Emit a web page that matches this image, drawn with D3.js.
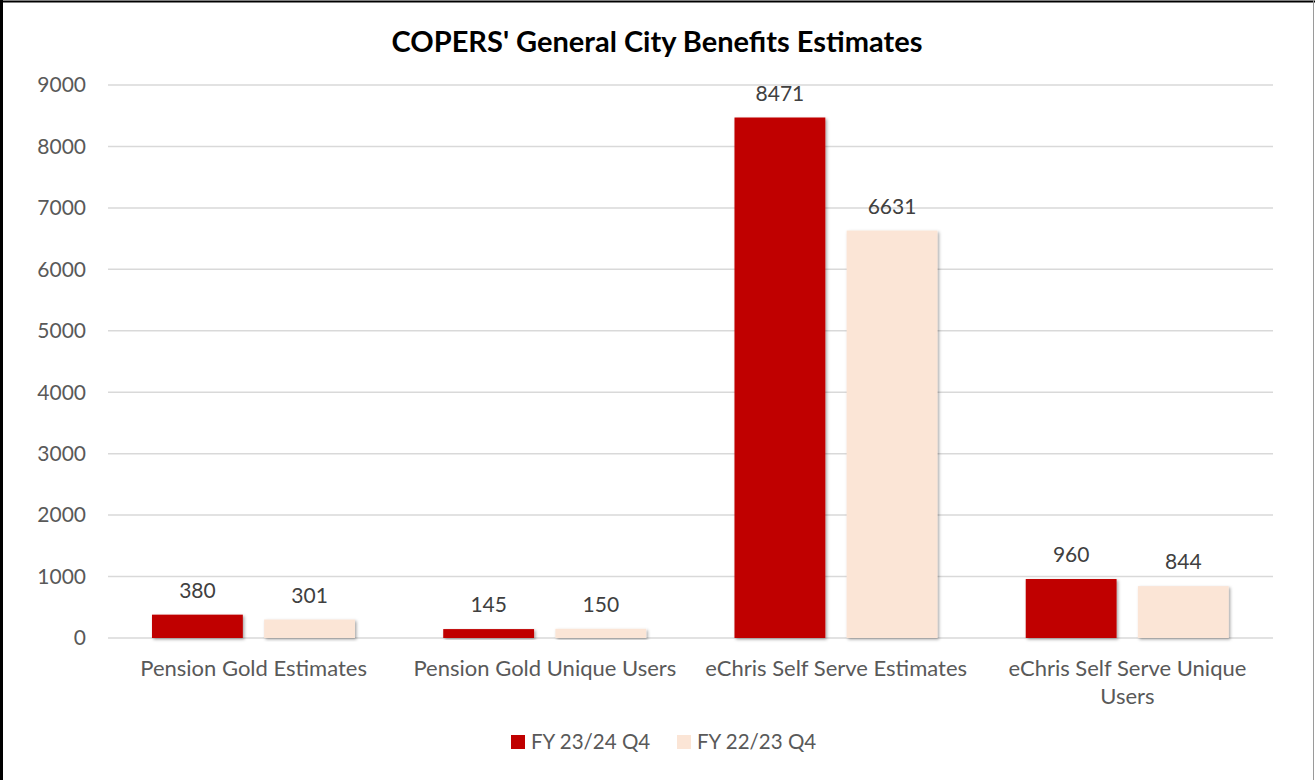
<!DOCTYPE html>
<html><head><meta charset="utf-8">
<script src="https://cdn.jsdelivr.net/npm/d3@7"></script>
<style>body{margin:0;background:#fff}svg{display:block}text{font-family:Lato,"Open Sans",sans-serif}</style>
</head><body><svg id="c" width="1315" height="780"></svg>
<script>
const categories = ["Pension Gold Estimates","Pension Gold Unique Users","eChris Self Serve Estimates","eChris Self Serve Unique Users"];
const series = ["FY 23/24 Q4","FY 22/23 Q4"];
const fy2324 = [380,145,8471,960];
const fy2223 = [301,150,6631,844];
const yTicks = [0,1000,2000,3000,4000,5000,6000,7000,8000,9000];
const colors = ["#C00000","#FBE5D6"];

const svg = d3.select("#c");
const defs = svg.append("defs");
const f = defs.append("filter").attr("id","sh").attr("x","-10%").attr("y","-10%").attr("width","130%").attr("height","130%");
f.append("feDropShadow").attr("dx",1.5).attr("dy",1.5).attr("stdDeviation",1.8).attr("flood-color","#000").attr("flood-opacity",0.35);

// border
svg.append("line").attr("x1",0).attr("x2",1315).attr("y1",1.5).attr("y2",1.5).attr("stroke","#000").attr("stroke-width",2);
svg.append("line").attr("x1",1.5).attr("x2",1.5).attr("y1",0).attr("y2",780).attr("stroke","#000").attr("stroke-width",3);
svg.append("line").attr("x1",1313.5).attr("x2",1313.5).attr("y1",0).attr("y2",780).attr("stroke","#9a9a9a").attr("stroke-width",1);

const L=108,R=1273,T=85,B=638;
const y = d3.scaleLinear().domain([0,9000]).range([B,T]);
const x0 = d3.scaleBand().domain(categories).range([L,R]).padding(0);
const bw = x0.bandwidth();
const x1 = d3.scaleBand().domain(series).range([bw*0.151, bw*0.848]).paddingInner(0.19);

// grid
svg.append("g").selectAll("line").data(yTicks).join("line")
  .attr("x1",L).attr("x2",R).attr("y1",d=>y(d)).attr("y2",d=>y(d))
  .attr("stroke","#d9d9d9").attr("stroke-width",1.5);

// y labels
svg.append("g").selectAll("text").data(yTicks).join("text")
  .attr("x",86).attr("y",d=>y(d)).attr("dy","0.35em").attr("text-anchor","end")
  .attr("fill","#595959").attr("font-size",21).text(d=>d);

const data = categories.map((c,i)=>({c, vals:[fy2324[i],fy2223[i]]}));
const g = svg.append("g").selectAll("g").data(data).join("g").attr("transform",d=>`translate(${x0(d.c)},0)`);
g.selectAll("rect").data(d=>d.vals.map((v,j)=>({s:series[j],v,j}))).join("rect")
  .attr("x",d=>x1(d.s)).attr("width",x1.bandwidth())
  .attr("y",d=>y(d.v)).attr("height",d=>B-y(d.v))
  .attr("fill",d=>colors[d.j]).attr("filter","url(#sh)");
g.selectAll("text").data(d=>d.vals.map((v,j)=>({s:series[j],v,j}))).join("text")
  .attr("x",d=>x1(d.s)+x1.bandwidth()/2).attr("y",d=>y(d.v)-17)
  .attr("text-anchor","middle").attr("fill","#404040").attr("font-size",21).text(d=>d.v);

// x labels
const xl = svg.append("g").selectAll("text").data(categories).join("text")
  .attr("x",d=>x0(d)+bw/2).attr("y",676).attr("text-anchor","middle")
  .attr("fill","#595959").attr("font-size",22);
xl.each(function(d){
  const t=d3.select(this);
  if(d==="eChris Self Serve Unique Users"){
    t.append("tspan").attr("x",x0(d)+bw/2).text("eChris Self Serve Unique");
    t.append("tspan").attr("x",x0(d)+bw/2).attr("dy",28).text("Users");
  } else t.text(d);
});

// title
const title = svg.append("text").attr("x",657).attr("y",52).attr("text-anchor","middle")
  .attr("font-weight","bold").attr("font-size",26).attr("fill","#000").text("COPERS' General City Benefits Estimates");
const tw = title.node().getComputedTextLength();
title.attr("font-size",26*531/tw);

// legend
const lg = svg.append("g");
const lx=[511,677];
series.forEach((s,i)=>{
  lg.append("rect").attr("x",lx[i]).attr("y",735).attr("width",14).attr("height",14).attr("fill",colors[i]);
  lg.append("text").attr("x",lx[i]+20).attr("y",742).attr("dy","0.35em").attr("fill","#595959").attr("font-size",20.5).text(s);
});
</script></body></html>
